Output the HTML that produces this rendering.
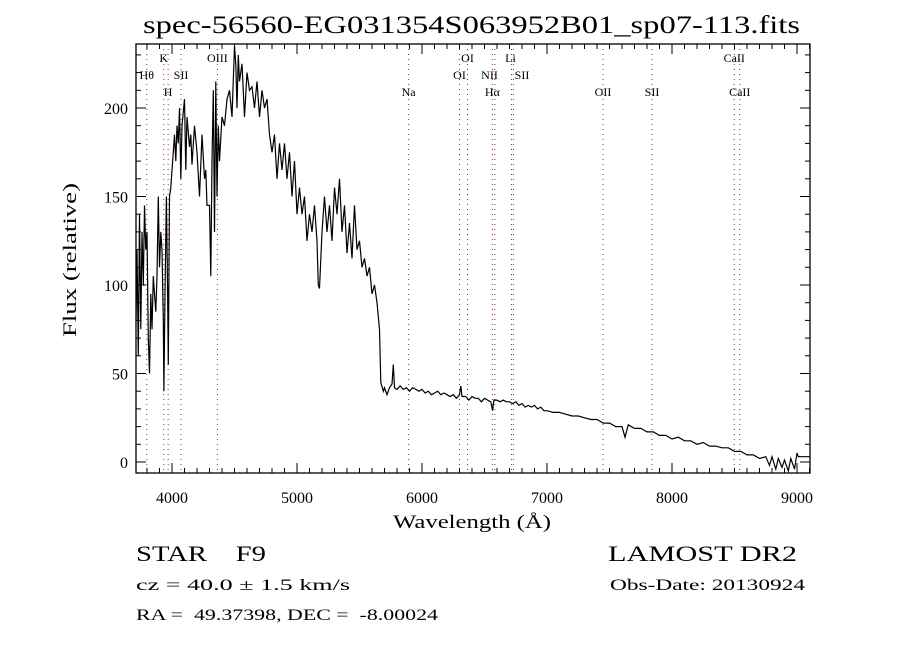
<!DOCTYPE html>
<html><head><meta charset="utf-8"><style>
html,body{margin:0;padding:0;background:#fff;}
svg{display:block;}
text{font-family:"Liberation Serif",serif;fill:#000;white-space:pre;}
</style></head><body>
<svg id="chart" width="900" height="650" viewBox="0 0 900 650" xmlns="http://www.w3.org/2000/svg">
<rect width="900" height="650" fill="#fff"/>
<text x="143" y="33" font-size="25" textLength="657" lengthAdjust="spacingAndGlyphs">spec-56560-EG031354S063952B01_sp07-113.fits</text>
<g id="plot"></g>
<text x="393" y="528" font-size="19" textLength="158" lengthAdjust="spacingAndGlyphs">Wavelength (Å)</text>
<text transform="translate(76,337) rotate(-90)" font-size="19" textLength="154" lengthAdjust="spacingAndGlyphs">Flux (relative)</text>
<text x="136" y="561" font-size="22" textLength="130" lengthAdjust="spacingAndGlyphs">STAR    F9</text>
<text x="608" y="561" font-size="22" textLength="189" lengthAdjust="spacingAndGlyphs">LAMOST DR2</text>
<text x="136" y="590" font-size="16" textLength="214" lengthAdjust="spacingAndGlyphs">cz = 40.0 ± 1.5 km/s</text>
<text x="610" y="590" font-size="16" textLength="195" lengthAdjust="spacingAndGlyphs">Obs-Date: 20130924</text>
<text x="136" y="620" font-size="16" textLength="302" lengthAdjust="spacingAndGlyphs">RA =  49.37398, DEC =  -8.00024</text>
</svg>
<script>
const wavelengths = [3712,3720,3730,3740,3750,3760,3770,3780,3790,3800,3810,3820,3830,3840,3850,3860,3870,3880,3890,3900,3910,3920,3930,3935,3945,3955,3965,3970,3980,3990,4000,4010,4020,4030,4040,4050,4060,4070,4080,4100,4110,4120,4140,4150,4160,4180,4200,4220,4240,4260,4270,4280,4300,4310,4320,4330,4340,4350,4360,4370,4380,4400,4420,4440,4460,4480,4500,4510,4520,4530,4540,4560,4580,4600,4620,4640,4660,4680,4700,4720,4740,4760,4780,4800,4820,4840,4860,4880,4900,4920,4940,4960,4980,5000,5020,5040,5060,5080,5100,5120,5140,5160,5170,5180,5200,5220,5240,5260,5280,5300,5320,5340,5360,5380,5400,5420,5440,5460,5480,5500,5520,5540,5560,5580,5600,5620,5640,5660,5670,5690,5700,5720,5740,5760,5770,5780];
const fluxes = [80,120,60,140,75,130,100,145,120,130,70,50,95,75,105,95,85,105,150,110,130,120,80,40,100,150,95,55,150,155,165,175,185,170,190,180,200,160,190,205,165,195,178,185,168,190,175,150,185,160,165,145,145,105,170,210,130,215,150,190,170,195,190,205,210,195,235,225,200,230,215,225,195,220,210,212,200,215,195,210,200,205,185,175,185,160,180,165,180,160,175,150,170,140,155,140,150,125,140,130,145,125,100,98,130,150,130,145,125,155,140,160,130,145,118,135,115,145,120,125,110,115,105,110,95,100,90,75,45,40,42,38,42,44,55,42];
const redWavelengths = [5800,5825,5850,5875,5900,5925,5950,5975,6000,6025,6050,6075,6100,6125,6150,6175,6200,6225,6250,6275,6300,6310,6320,6350,6375,6400,6425,6450,6475,6500,6525,6550,6565,6575,6600,6625,6650,6675,6700,6725,6750,6775,6800,6825,6850,6875,6900,6925,6950,6975,7000,7050,7100,7150,7200,7250,7300,7350,7400,7450,7500,7550,7600,7624,7650,7700,7750,7800,7850,7900,7950,8000,8050,8100,8150,8200,8250,8300,8350,8400,8450,8500,8550,8600,8650,8700,8750,8780,8800,8830,8850,8880,8900,8930,8950,8980,9000,9010,9050,9100];
const redFluxes = [41,43,41,42,40,42,41,40,41,39,40,38,39,40,38,39,38,37,38,36,38,43,37,37,35,37,36,36,34,36,35,34,29,35,35,34,35,34,34,33,34,32,33,31,32,31,32,30,31,29,29,28,28,27,26,26,25,24,24,22,22,20,20,14,21,19,19,17,17,15,15,13,14,12,12,10,11,9,9,8,8,6,6,4,4,2,3,-2,3,-4,2,-3,1,-5,2,-4,5,3,3,3];
const xTicks = [4000,5000,6000,7000,8000,9000];
const yTicks = [0,50,100,150,200];
const lineWaves = [3798,3934,3969,4072,4363,5893,6300,6364,6563,6583,6716,6731,7448,7840,8498,8542];
const lineLabels = [
  {t:"Hθ",w:3798,r:1},{t:"K",w:3934,r:0},{t:"H",w:3969,r:2},{t:"SII",w:4072,r:1},{t:"OIII",w:4363,r:0},
  {t:"Na",w:5893,r:2},{t:"OI",w:6364,r:0},{t:"OI",w:6300,r:1},{t:"Hα",w:6563,r:2},{t:"NII",w:6540,r:1},
  {t:"SII",w:6800,r:1},{t:"Li",w:6708,r:0},{t:"OII",w:7448,r:2},{t:"SII",w:7840,r:2},{t:"CaII",w:8498,r:0},{t:"CaII",w:8542,r:2}
];
const X0=136,X1=810,Y0=44,Y1=473;
const xs = w => 172 + (w-4000)*0.125;
const ys = f => 462 - f*1.77;
const NS="http://www.w3.org/2000/svg";
const g=document.getElementById('plot');
function mk(tag,attrs){const e=document.createElementNS(NS,tag);for(const k in attrs)e.setAttribute(k,attrs[k]);g.appendChild(e);return e;}
lineWaves.forEach(w=>{
  const l=mk('line',{x1:xs(w),x2:xs(w),y1:Y0,y2:Y1,stroke:'#8b3030','stroke-width':1,'stroke-dasharray':'1,4'});
  
  
});
const rowY=[58,75,92];
lineLabels.forEach(L=>{
  const t=mk('text',{x:xs(L.w),y:rowY[L.r]+4,'font-size':12,'text-anchor':'middle'});
  t.textContent=L.t;
  
  
});
const allW = wavelengths.concat(redWavelengths);
const allF = fluxes.concat(redFluxes);
let d='';
allW.forEach((w,i)=>{d+=(i?'L':'M')+xs(w).toFixed(1)+','+ys(allF[i]).toFixed(1);});
const p=mk('path',{d:d,fill:'none',stroke:'#000','stroke-width':1.2});


const fr=mk('rect',{x:X0,y:Y0,width:X1-X0,height:Y1-Y0,fill:'none',stroke:'#000','stroke-width':1.3});


for(let w=3800;w<=9100;w+=100){
  const maj = w%1000===0, len = maj?10:5, x=xs(w);
  if(x<X0||x>X1) continue;
  const a=mk('line',{x1:x,x2:x,y1:Y1,y2:Y1-len,stroke:'#000','stroke-width':1});
  
  
  const b=mk('line',{x1:x,x2:x,y1:Y0,y2:Y0+len,stroke:'#000','stroke-width':1});
  
  
}
xTicks.forEach(w=>{
  const t=mk('text',{x:xs(w),y:503,'font-size':16,'text-anchor':'middle'});
  t.textContent=w;
  
  
});
for(let f=0;f<=230;f+=10){
  const maj=f%50===0, len=maj?10:5, y=ys(f);
  const a=mk('line',{x1:X0,x2:X0+len,y1:y,y2:y,stroke:'#000','stroke-width':1});
  
  
  const b=mk('line',{x1:X1,x2:X1-len,y1:y,y2:y,stroke:'#000','stroke-width':1});
  
  
}
yTicks.forEach(f=>{
  const t=mk('text',{x:128,y:ys(f)+6,'font-size':16,'text-anchor':'end'});
  t.textContent=f;
  
  
});
</script>
</body></html>
